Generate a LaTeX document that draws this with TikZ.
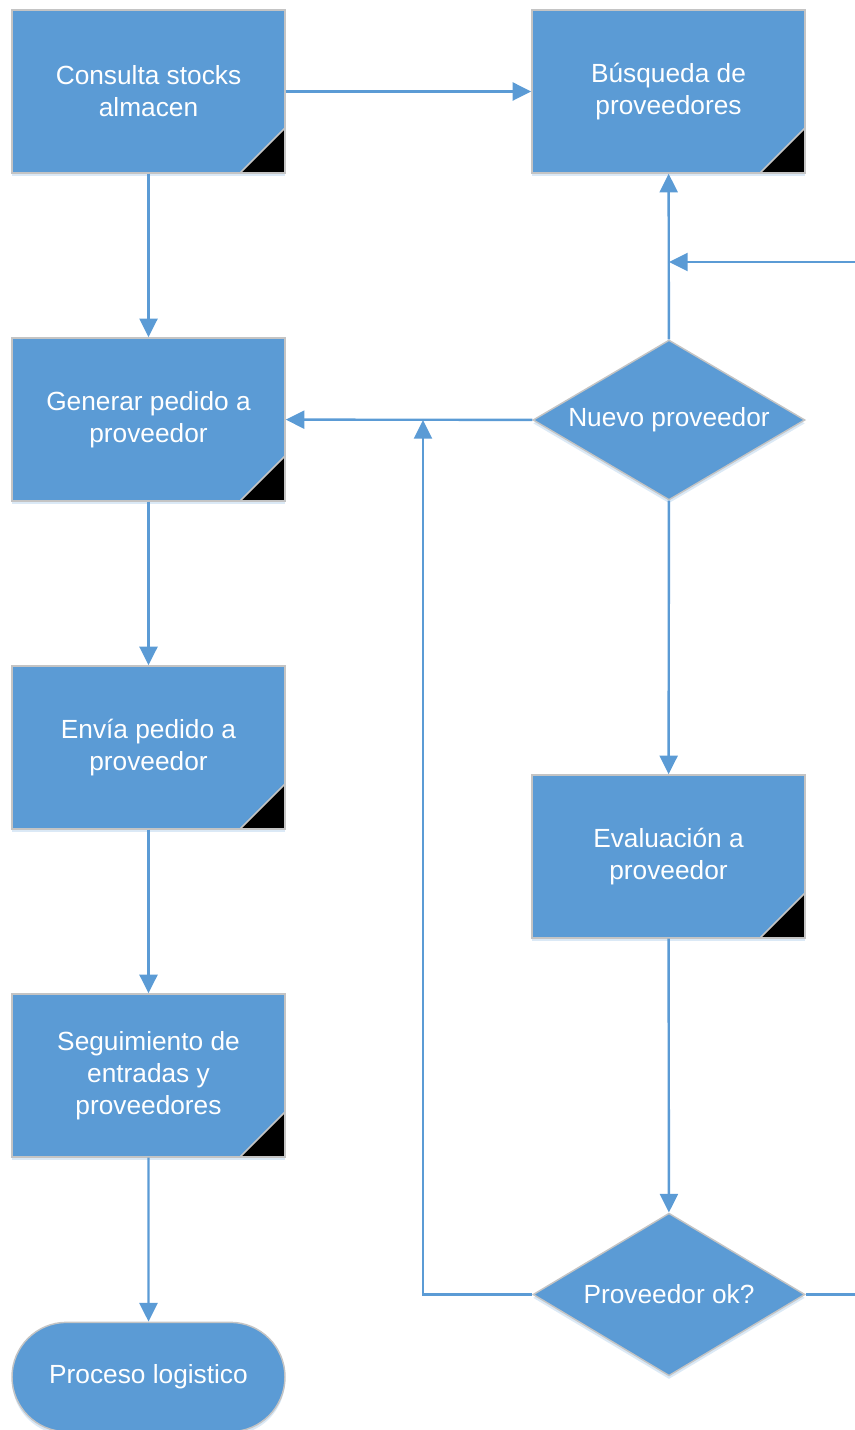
\documentclass[tikz,border=0pt]{standalone}
\usepackage{fontspec}
\setmainfont{Liberation Sans}
\usetikzlibrary{arrows.meta,shapes.geometric,shapes.misc,shadows}
\definecolor{flowblue}{HTML}{5B9BD5}
\definecolor{flowedge}{HTML}{C4C4C4}
\definecolor{glow}{HTML}{BDD7EE}
\begin{document}
\begin{tikzpicture}[x=0.75pt,y=-0.75pt,
  base/.style={fill=flowblue,draw=flowedge,line width=1.1pt,text=white,align=center,
    font=\fontsize{19.7}{24}\selectfont,inner sep=0pt,
    drop shadow={shadow xshift=0pt,shadow yshift=-2.5pt,fill=glow,opacity=0.55}},
  procbox/.style={base,rectangle,minimum width=204.75pt,minimum height=122.25pt,
    path picture={
      \fill[black] (path picture bounding box.south east) -- ++(-33.75pt,0pt)
        -- ++(33.75pt,33.75pt) -- cycle;
      \draw[flowedge,line width=1.1pt] (path picture bounding box.south east) ++(-33.75pt,0pt)
        -- ++(33.75pt,33.75pt);}},
  decision/.style={base,diamond,aspect=1.7,minimum width=204pt,minimum height=#1},
  terminal/.style={base,rounded rectangle,minimum width=204.75pt,minimum height=82pt},
  flow/.style={draw=flowblue,line width=1.8pt,-{Triangle[length=14pt,width=13.5pt]}},
  link/.style={draw=flowblue,line width=1.8pt}]
\clip (0,0) rectangle (855,1430);

% process boxes
\node[procbox] (consulta) at (148.5,91.5) {Consulta stocks\\almacen};
\node[procbox] (busqueda) at (668.5,91.5) {Búsqueda de\\proveedores};
\node[procbox] (generar) at (148.5,419.5) {Generar pedido a\\proveedor};
\node[procbox] (envia) at (148.5,747.5) {Envía pedido a\\proveedor};
\node[procbox] (seguim) at (148.5,1075.5) {Seguimiento de\\entradas y\\proveedores};
\node[procbox] (evalua) at (668.5,856.5) {Evaluación a\\proveedor};

% decisions and end
\node[decision=120pt] (nuevo) at (669,420) {Nuevo proveedor};
\node[decision=122pt] (ok) at (669,1294.5) {Proveedor ok?};
\node[terminal] (logist) at (148.5,1377) {Proceso logistico};

% junction points on existing lines
\coordinate (joinup) at (669,262);
\coordinate (joinleft) at (423,420);
\coordinate (leftturn) at (423,1294.5);
\coordinate (rightturn) at (880,1294.5);

% connectors
\path[flow] (consulta) -- (busqueda);
\path[flow] (consulta) -- (generar);
\path[flow] (generar) -- (envia);
\path[flow] (envia) -- (seguim);
\path[flow] (seguim) -- (logist);
\path[flow] (nuevo) -- (busqueda);
\path[flow] (nuevo) -- (generar);
\path[flow] (nuevo) -- (evalua);
\path[flow] (evalua) -- (ok);
\path[flow] (ok.west) -- (leftturn) -- (joinleft);
\path[flow] (ok.east) -- (rightturn) |- (joinup);
\end{tikzpicture}
\end{document}
